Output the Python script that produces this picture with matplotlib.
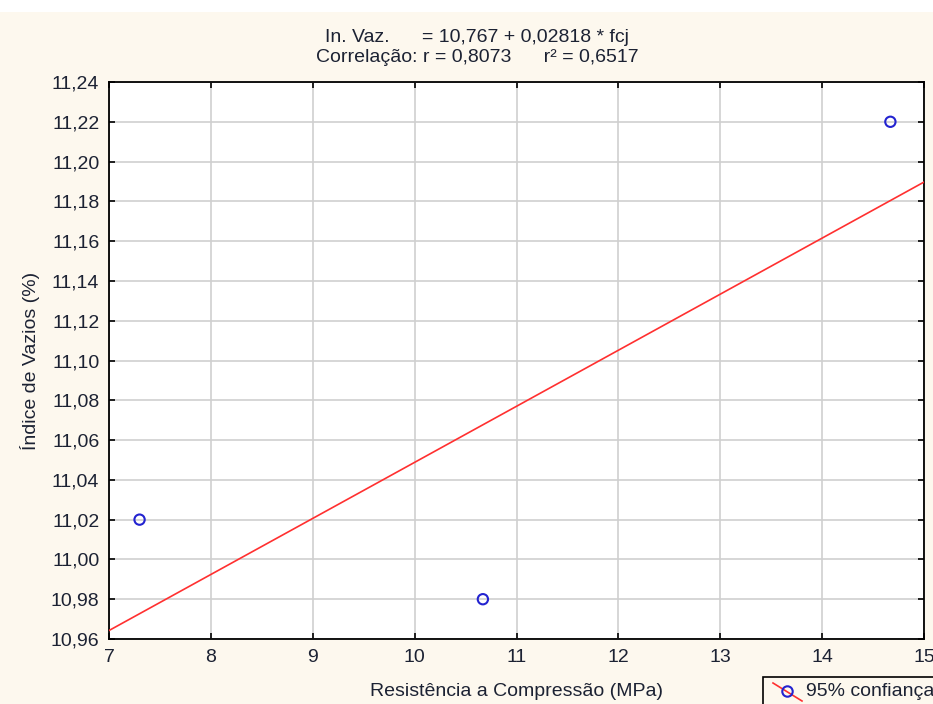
import matplotlib
matplotlib.use("Agg")
import matplotlib.pyplot as plt
import numpy as np
from matplotlib.patches import Rectangle
from matplotlib.lines import Line2D
from matplotlib.ticker import FuncFormatter

# Observed data
fcj = [7.3, 10.67, 14.67]
indice_vazios = [11.02, 10.98, 11.22]

# Fitted regression line
intercept = 10.767
slope = 0.02818

x_ticks = [7, 8, 9, 10, 11, 12, 13, 14, 15]
y_ticks = [10.96, 10.98, 11.00, 11.02, 11.04, 11.06, 11.08, 11.10, 11.12,
           11.14, 11.16, 11.18, 11.20, 11.22, 11.24]

title_lines = ["In. Vaz.      = 10,767 + 0,02818 * fcj",
               "Correlação: r = 0,8073      r² = 0,6517"]

plt.rcParams['font.family'] = ['Liberation Sans', 'DejaVu Sans']
txt_color = '#1c2233'
bg = '#fdf8ee'
fs = 14

W, H = 933, 704
fig = plt.figure(figsize=(W / 100, H / 100), dpi=100, facecolor=bg)
# white strip along the top edge
fig.patches.append(Rectangle((0, 1 - 12 / H), 1, 12 / H, transform=fig.transFigure,
                             facecolor='white', edgecolor='none', zorder=0))

ax = fig.add_axes([109 / W, 1 - 639 / H, (924 - 109) / W, (639 - 82) / H])
ax.set_facecolor('white')

ax.set_xlim(7, 15)
ax.set_ylim(10.96, 11.24)
ax.set_xticks(x_ticks)
ax.set_yticks(y_ticks)
ax.xaxis.set_major_formatter(FuncFormatter(lambda v, p: f"{v:g}"))
ax.yaxis.set_major_formatter(FuncFormatter(lambda v, p: f"{v:.2f}".replace('.', ',')))
ax.tick_params(direction='in', length=4, width=1.2, top=True, right=True,
               labelsize=fs, colors='black', labelcolor=txt_color, pad=7)
ax.grid(True, color='#cfcfcf', linewidth=1.2)
ax.set_axisbelow(True)
for s in ax.spines.values():
    s.set_linewidth(1.3)
    s.set_color('black')

xs = np.array([7, 15])
ax.plot(xs, intercept + slope * xs, color='#ff3030', linewidth=1.2, zorder=3)
ax.scatter(fcj, indice_vazios, s=55, facecolors='none', edgecolors='#2323d0',
           linewidths=1.5, zorder=4, clip_on=False)

ax.set_xlabel('Resistência a Compressão (MPa)', fontsize=fs, color=txt_color, va='center')
ax.xaxis.set_label_coords(0.5, (639 - 692) / (639 - 82))
ax.set_ylabel('Índice de Vazios (%)', fontsize=fs, color=txt_color, va='center')
ax.yaxis.set_label_coords((30 - 109) / (924 - 109), 0.5)

fig.text(477 / W, 1 - 37 / H, title_lines[0], ha='center', va='center',
         fontsize=fs, color=txt_color)
fig.text(477 / W, 1 - 58 / H, title_lines[1], ha='center', va='center',
         fontsize=fs, color=txt_color)

# legend box running off the right edge
fig.patches.append(Rectangle((763 / W, 1 - 720 / H), 200 / W, 43 / H, transform=fig.transFigure,
                             facecolor=bg, edgecolor='black', linewidth=1.2, zorder=5))
fig.lines.append(Line2D([773 / W, 802 / W], [1 - 683 / H, 1 - 701 / H], transform=fig.transFigure,
                        color='#ff3030', linewidth=1.2, zorder=6))
fig.lines.append(Line2D([787 / W], [1 - 691 / H], transform=fig.transFigure, marker='o',
                        markersize=7.5, markerfacecolor='none', markeredgecolor='#2323d0',
                        markeredgewidth=1.5, zorder=7))
fig.text(806 / W, 1 - 691 / H, '95% confiança', ha='left', va='center', fontsize=fs,
         color=txt_color, zorder=8)

fig.savefig('out.png', dpi=100, facecolor=bg)
